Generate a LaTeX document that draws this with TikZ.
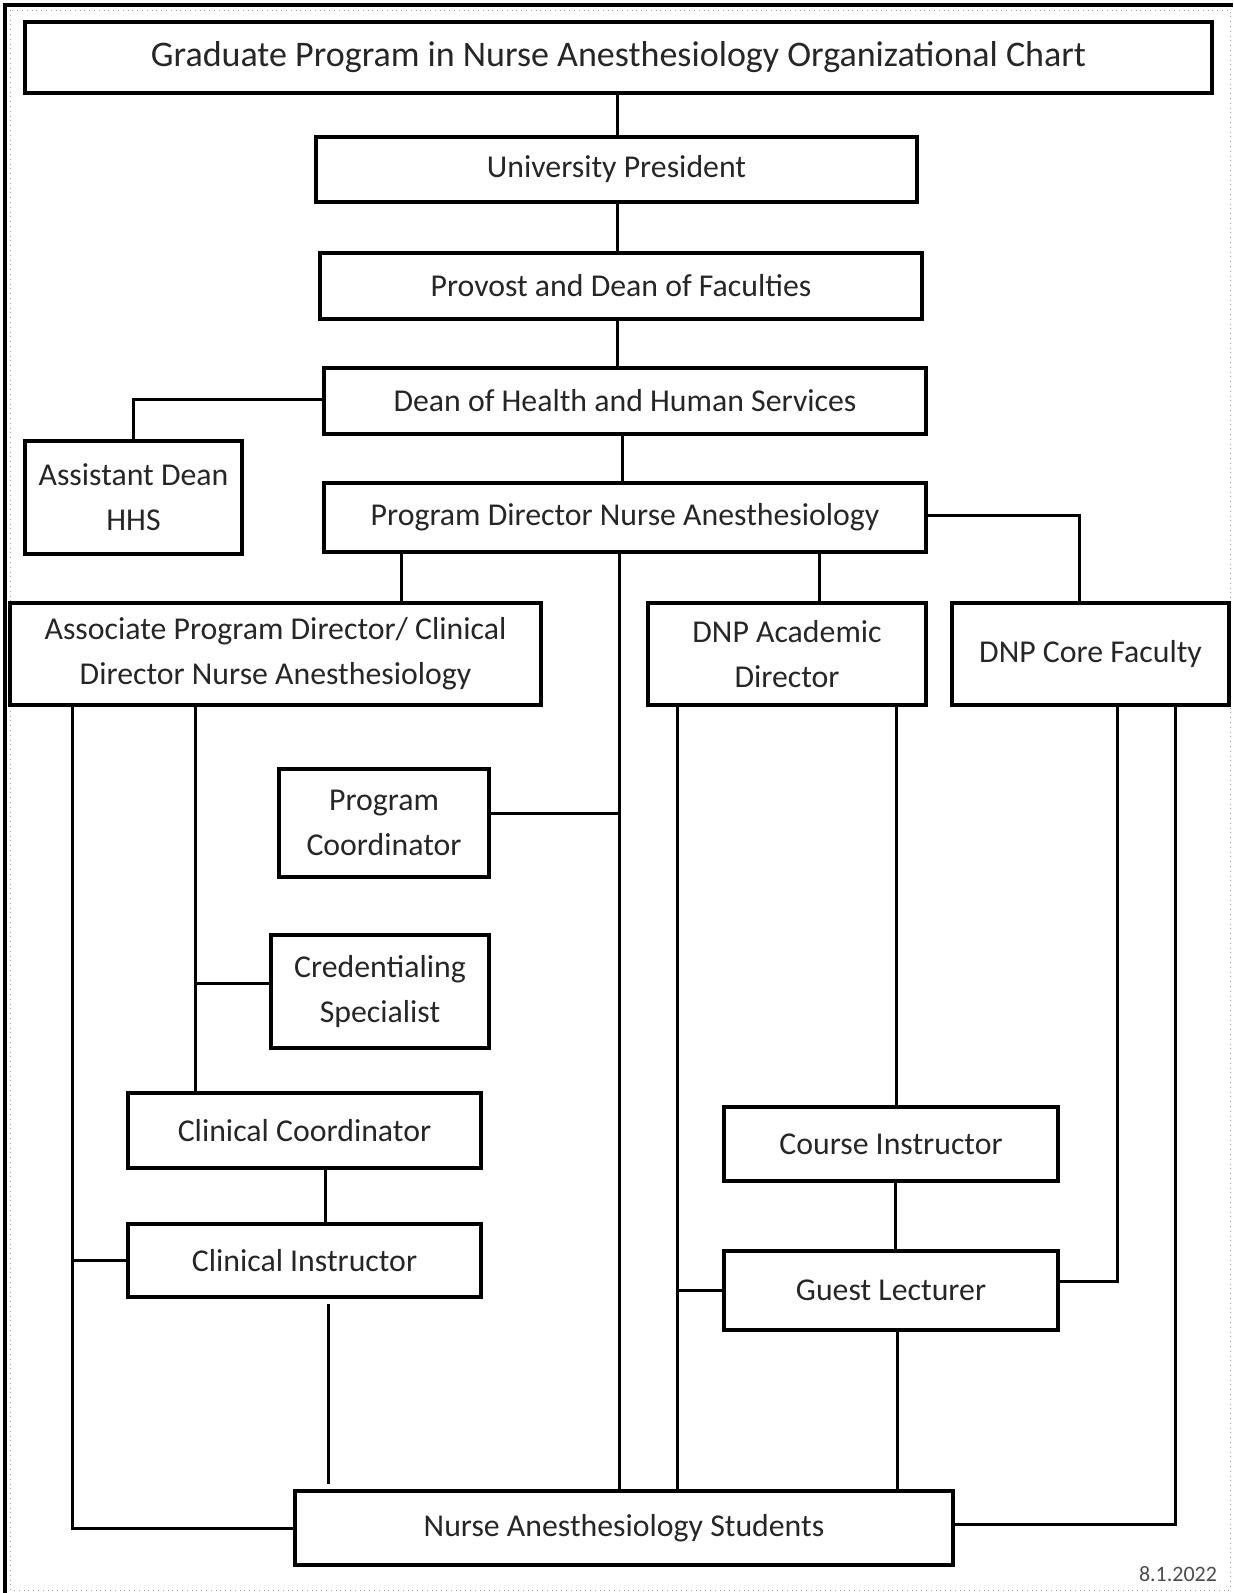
\documentclass[tikz,border=0pt]{standalone}
\usepackage{fontspec}
\setmainfont{Carlito}
\begin{document}
\begin{tikzpicture}[x=0.5pt,y=-0.5pt,
    box/.style 2 args={draw,line width=1.8pt,inner sep=0pt,align=center,
      minimum width=#1*0.5pt,minimum height=#2*0.5pt,
      font=\fontsize{15.9}{22.5}\selectfont,text=black!85},
    link/.style={line width=1.5pt}]
  \useasboundingbox (0,0) rectangle (1233,1593);
  % frame of the page
  \draw[line width=2pt] (5,1593) -- (5,5) -- (1233,5);
  \draw[dotted,color=blue!25!gray!60] (10,10) rectangle (1230,1590);

  % boxes
  \node[box={1187}{71},font=\fontsize{18}{21}\selectfont] (title) at (618.5,57.5) {Graduate Program in Nurse Anesthesiology Organizational Chart};
  \node[box={601}{65}] (pres) at (616.5,169.5) {University President};
  \node[box={602}{66}] (provost) at (621,286) {Provost and Dean of Faculties};
  \node[box={602}{66}] (dean) at (625,401) {Dean of Health and Human Services};
  \node[box={217}{113}] (asstdean) at (133.5,497.5) {Assistant Dean\\HHS};
  \node[box={602}{69}] (progdir) at (625,517.5) {Program Director Nurse Anesthesiology};
  \node[box={531}{102}] (assocdir) at (275.5,654) {Associate Program Director/ Clinical\\Director Nurse Anesthesiology};
  \node[box={278}{102}] (dnpacad) at (787,654) {DNP Academic\\Director};
  \node[box={277}{102}] (dnpcore) at (1090.5,654) {DNP Core Faculty};
  \node[box={210}{108}] (progcoord) at (384,823) {Program\\Coordinator};
  \node[box={218}{113}] (credspec) at (380,991.5) {Credentialing\\Specialist};
  \node[box={353}{75}] (clincoord) at (304.5,1130.5) {Clinical Coordinator};
  \node[box={353}{73}] (clininst) at (304.5,1260.5) {Clinical Instructor};
  \node[box={334}{74}] (course) at (891,1144) {Course Instructor};
  \node[box={334}{79}] (guest) at (891,1290.5) {Guest Lecturer};
  \node[box={658}{74}] (students) at (624,1528) {Nurse Anesthesiology Students};
  \node[font=\fontsize{11}{13}\selectfont,text=black!70] (date) at (1178,1574) {8.1.2022};

  % vertical buses
  \coordinate (mainbus) at (617,0);
  \coordinate (pdbus) at (619,0);
  \coordinate (clinbus) at (195,0);
  \coordinate (outbus) at (72,0);
  \coordinate (acadbus) at (677,0);
  \coordinate (corebus) at (1117,0);
  \coordinate (rimbus) at (1175,0);

  % connectors
  \draw[link] (title.south -| mainbus) -- (pres.north -| mainbus);
  \draw[link] (pres.south -| mainbus) -- (provost.north -| mainbus);
  \draw[link] (provost.south -| mainbus) -- (dean.north -| mainbus);
  \draw[link] (dean.west |- 0,400) -| (asstdean.north);
  \draw[link] (dean.south -| 622,0) -- (progdir.north -| 622,0);
  \draw[link] (progdir.south -| 401,0) -- (assocdir.north -| 401,0);
  \draw[link] (progdir.south -| 819,0) -- (dnpacad.north -| 819,0);
  \draw[link] (progdir.east |- 0,515) -| (dnpcore.north -| 1079,0);
  \draw[link] (progdir.south -| pdbus) -- (students.north -| pdbus);
  \draw[link] (progcoord.east |- 0,813) -- (pdbus |- 0,813);
  \draw[link] (assocdir.south -| clinbus) -- (clincoord.north -| clinbus);
  \draw[link] (credspec.west |- 0,983) -- (clinbus |- 0,983);
  \draw[link] (clincoord.south -| 325,0) -- (clininst.north -| 325,0);
  \draw[link,shorten <=2.5pt,shorten >=2.5pt] (clininst.south -| 328,0) -- (students.north -| 328,0);
  \draw[link] (assocdir.south -| outbus) |- (students.west);
  \draw[link] (clininst.west) -- (clininst.west -| outbus);
  \draw[link] (dnpacad.south -| acadbus) -- (students.north -| acadbus);
  \draw[link] (guest.west) -- (guest.west -| acadbus);
  \draw[link] (dnpacad.south -| 896,0) -- (course.north -| 896,0);
  \draw[link] (course.south -| 895,0) -- (guest.north -| 895,0);
  \draw[link] (guest.south -| 897,0) -- (students.north -| 897,0);
  \draw[link] (dnpcore.south -| corebus) |- (guest.east |- 0,1281);
  \draw[link] (students.east |- 0,1524) -| (dnpcore.south -| rimbus);
\end{tikzpicture}
\end{document}
